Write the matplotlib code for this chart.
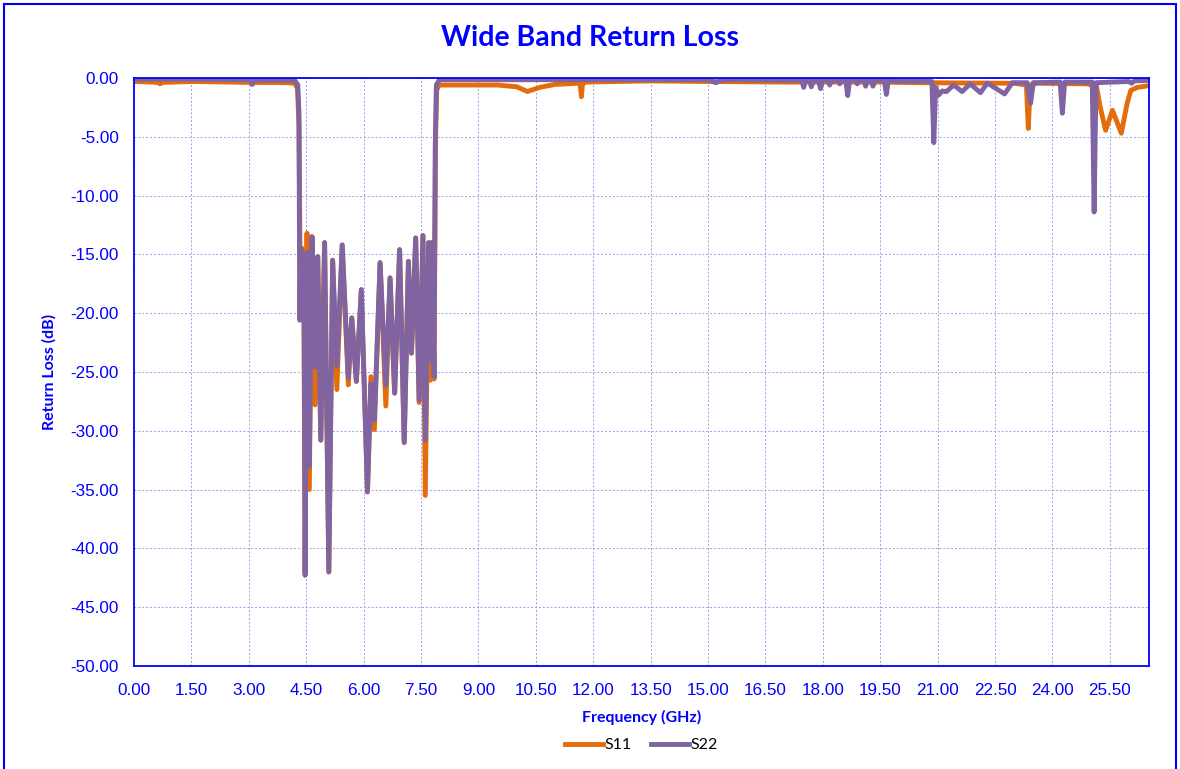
import matplotlib.pyplot as plt
from matplotlib.patches import Rectangle
import numpy as np

# frequency (GHz) / return loss (dB)
s11_freq = [0.00, 0.50, 0.64, 0.68, 0.74, 1.50, 2.50, 3.02, 3.09, 3.16, 4.00, 4.20, 4.27, 4.31,
            4.35, 4.40, 4.44, 4.47, 4.52, 4.58, 4.65, 4.73, 4.80, 4.88, 4.98, 5.09, 5.19,
            5.30, 5.44, 5.60, 5.69, 5.81, 5.94, 6.10, 6.19, 6.28, 6.43, 6.58, 6.69, 6.81,
            6.94, 7.06, 7.17, 7.25, 7.36, 7.45, 7.55, 7.61, 7.70, 7.74, 7.78, 7.84, 7.88,
            7.91, 7.98, 9.50, 10.00, 10.28, 10.60, 11.00, 11.60, 11.66, 11.69, 11.72, 11.80,
            13.50, 15.00, 17.00, 19.50, 20.50, 23.00, 23.32, 23.37, 23.42, 23.60, 24.90,
            25.15, 25.25, 25.39, 25.57, 25.80, 25.95, 26.05, 26.22, 26.52]
s11_db = [-0.30, -0.35, -0.40, -0.50, -0.38, -0.30, -0.35, -0.38, -0.50, -0.38, -0.40, -0.45, -0.9, -4.0,
          -20.0, -14.5, -20.5, -42.0, -13.2, -35.0, -13.5, -27.8, -15.2, -30.8, -14.0, -42.0, -15.5,
          -26.5, -14.2, -26.1, -20.4, -25.8, -18.0, -35.2, -25.4, -29.9, -15.7, -27.9, -17.0, -26.8,
          -14.6, -31.0, -15.6, -23.4, -13.6, -27.6, -13.4, -35.5, -14.0, -25.7, -14.0, -25.6, -5.0,
          -1.0, -0.60, -0.60, -0.75, -1.15, -0.80, -0.55, -0.45, -0.50, -1.60, -0.50, -0.35,
          -0.25, -0.30, -0.35, -0.35, -0.40, -0.45, -0.60, -4.30, -0.60, -0.45, -0.50,
          -0.70, -2.50, -4.45, -2.75, -4.70, -2.20, -1.05, -0.80, -0.65]

s22_freq = [0.00, 1.50, 3.00, 3.05, 3.09, 3.13, 4.20, 4.28, 4.31, 4.33, 4.36, 4.40, 4.44,
            4.47, 4.52, 4.58, 4.65, 4.73, 4.80, 4.88, 4.98, 5.09, 5.19, 5.30, 5.44, 5.60,
            5.69, 5.81, 5.94, 6.10, 6.19, 6.28, 6.43, 6.58, 6.69, 6.81, 6.94, 7.06, 7.17,
            7.25, 7.36, 7.45, 7.55, 7.61, 7.70, 7.74, 7.78, 7.84, 7.87, 7.90, 7.98,
            15.00, 15.20, 15.40, 17.45, 17.50, 17.55, 17.65, 17.70, 17.75, 17.89, 17.94, 17.99,
            18.13, 18.18, 18.23, 18.39, 18.44, 18.49, 18.60, 18.65, 18.70, 18.85, 18.90, 18.95,
            19.07, 19.12, 19.17, 19.26, 19.31, 19.36, 19.61, 19.66, 19.71,
            20.85, 20.90, 20.95, 21.03, 21.12, 21.23, 21.42, 21.64, 21.85, 22.12, 22.30, 22.75,
            22.95, 23.34, 23.43, 23.50, 24.20, 24.26, 24.32, 25.04, 25.09, 25.14, 26.00,
            26.07, 26.14, 26.52]
s22_db = [-0.10, -0.10, -0.15, -0.25, -0.55, -0.20, -0.20, -0.60, -3.0, -20.6, -14.5, -20.5, -15.0,
          -42.3, -14.8, -33.0, -13.5, -24.6, -15.2, -30.8, -14.0, -42.0, -15.5, -24.5, -14.2, -25.5,
          -20.4, -25.8, -18.0, -35.2, -26.0, -29.1, -15.7, -26.1, -17.0, -26.8, -14.6, -31.0, -15.6,
          -23.4, -13.6, -27.4, -13.4, -30.8, -14.0, -24.0, -14.0, -25.4, -6.0, -0.6, -0.15,
          -0.15, -0.40, -0.15, -0.20, -0.80, -0.20, -0.20, -0.75, -0.20, -0.20, -0.90, -0.20,
          -0.20, -0.60, -0.20, -0.20, -0.50, -0.20, -0.20, -1.50, -0.20, -0.20, -0.50, -0.20,
          -0.20, -0.70, -0.20, -0.20, -0.70, -0.20, -0.20, -1.40, -0.25,
          -0.30, -5.50, -0.80, -1.45, -1.10, -1.16, -0.60, -1.16, -0.50, -1.25, -0.43, -1.36,
          -0.40, -0.40, -2.15, -0.40, -0.35, -3.00, -0.35, -0.35, -11.40, -0.40, -0.30,
          -0.45, -0.25, -0.20]

ticks_x = np.arange(0, 25.51, 1.5)
ticks_y = np.arange(-50, 0.1, 5)

blue = '#0000FF'
fig = plt.figure(figsize=(11.8, 7.69), dpi=100)
ax = fig.add_axes([0.1136, 0.134, 0.860, 0.7646])

ax.plot(s11_freq, s11_db, color='#E46C0A', lw=3.5, label='S11', solid_joinstyle='round')
ax.plot(s22_freq, s22_db, color='#8064A2', lw=3.5, label='S22', solid_joinstyle='round')

ax.set_xlim(0, 26.52)
ax.set_ylim(-50, 0)
ax.set_xticks(ticks_x)
ax.set_xticklabels(['%.2f' % t for t in ticks_x])
ax.set_yticks(ticks_y)
ax.set_yticklabels(['%.2f' % t for t in ticks_y])
ax.tick_params(length=0, labelcolor=blue, labelsize=12.3)
ax.tick_params(axis='x', pad=12)
ax.tick_params(axis='y', pad=11)
for lab in ax.get_xticklabels() + ax.get_yticklabels():
    lab.set_family('Liberation Sans')
ax.grid(True, color='#9C9CF0', lw=0.7, linestyle=(0, (2, 2)))
ax.set_axisbelow(True)
for sp in ax.spines.values():
    sp.set_color(blue)
    sp.set_linewidth(1.3)

ax.set_xlabel('Frequency (GHz)', color=blue, fontsize=11.5, fontweight='bold', family='Lato', labelpad=9)
ax.set_ylabel('Return Loss (dB)', color=blue, fontsize=11.5, fontweight='bold', family='Lato', labelpad=10)
fig.text(0.5, 0.951, 'Wide Band Return Loss', color=blue, fontsize=20.5, fontweight='bold',
         family='Lato', ha='center', va='center')

leg = ax.legend(loc='center', bbox_to_anchor=(0.5, -0.135), ncol=2, frameon=False,
                handlelength=2.4, handletextpad=0.1, columnspacing=1.2, prop={'family': 'Lato', 'size': 11.5})

fig.patches.append(Rectangle((0.003, -0.01), 0.994, 1.005, transform=fig.transFigure,
                             fill=False, edgecolor=blue, lw=1.5))

fig.savefig('out.png', dpi=100)
